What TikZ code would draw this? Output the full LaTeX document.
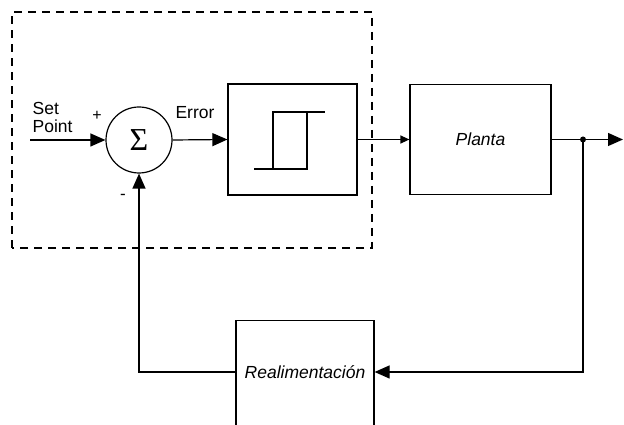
\documentclass[tikz,border=0pt]{standalone}
\usepackage{fontspec}
\setmainfont{Liberation Sans}
\newfontfamily\sigmafont{Liberation Serif}
\usetikzlibrary{arrows.meta}
\begin{document}
\begin{tikzpicture}[x=1pt,y=1pt,line width=1.2pt,
  lbl/.style={font=\fontsize{17.5}{19}\selectfont, inner sep=0pt},
  blk/.style={draw, inner sep=0pt},
  arr/.style={-{Triangle[length=15pt,width=13pt]}},
  sarr/.style={-{Triangle[length=9pt,width=8pt]}},
  dbox/.style={dash pattern=on 8pt off 6pt, line width=1.3pt}]
\useasboundingbox (0,0) rectangle (624,425);
\clip (0,0) rectangle (624,425);
% dashed controller region
\draw[dbox] (12,177) rectangle (372,413);
% nodes
\node[draw, circle, minimum size=66pt, inner sep=0pt] (sum) at (139,285) {\sigmafont\fontsize{32}{34}\selectfont Σ};
\coordinate (in) at (30,285);
\node[blk, minimum width=129pt, minimum height=111pt] (hyst) at (292.5,285.5) {};
\node[blk, minimum width=141pt, minimum height=110pt] (plant) at (480.5,285.5) {};
\node[lbl, font=\fontsize{17.5}{19}\selectfont\itshape] (plantl) at (480.5,285.5) {Planta};
\coordinate (jn) at (583,285.5);
\coordinate (outp) at (623,285.5);
\node[blk, minimum width=138pt, minimum height=140pt, anchor=north] (fb) at (305,105) {};
\node[lbl, font=\fontsize{17.5}{19}\selectfont\itshape] (fbl) at (305,53) {Realimentación};
% hysteresis glyph
\draw[line width=1.2pt] (254,256) -- (307,256) -- (307,313);
\draw[line width=1.2pt] (273,256) -- (273,313) -- (325,313);
% labels
\node[lbl, align=left, anchor=west] (sp) at (32,308) {Set\\[-1pt]Point};
\node[lbl, font=\fontsize{16}{16}\selectfont] (plus) at (97,309) {+};
\node[lbl, font=\fontsize{17}{17}\selectfont] (minus) at (123,228) {-};
\node[lbl] (err) at (195,312) {Error};
% connectors
\draw[arr] (in) -- (sum.west);
\draw[arr] (sum.east) -- (hyst.west);
\draw[sarr] (hyst.east) -- (plant.west);
\draw[arr] (plant.east) -- (outp);
\fill (jn) circle (3pt);
\draw[arr] (jn) |- (fb.east |- fbl);
\draw[arr] (fb.west |- fbl) -| (sum.south);
\end{tikzpicture}
\end{document}
